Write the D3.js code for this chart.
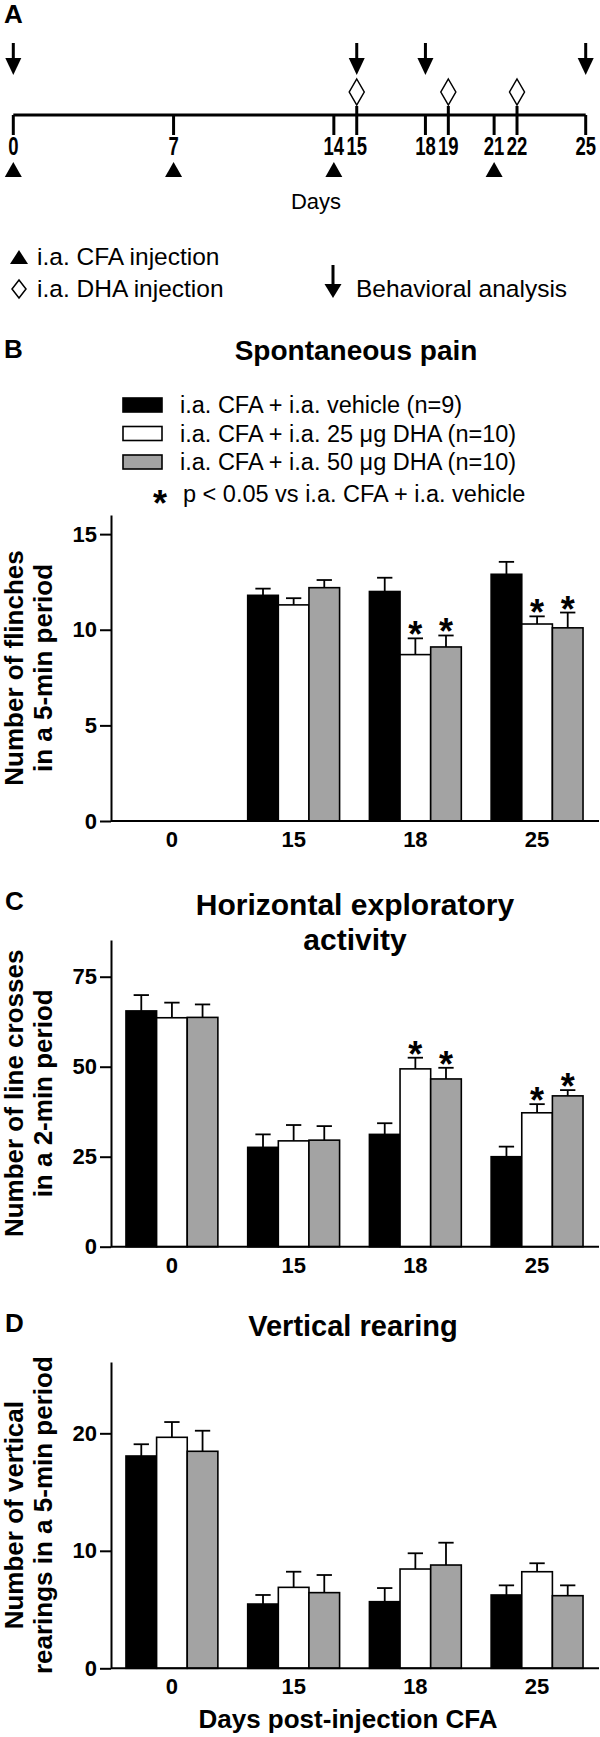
<!DOCTYPE html>
<html><head><meta charset="utf-8">
<script src="https://cdn.jsdelivr.net/npm/d3@7"></script>
<style>
html,body{margin:0;padding:0;background:#fff;}
svg{display:block;font-family:"Liberation Sans",Arial,Helvetica,sans-serif;}
</style></head><body>
<svg id="chart" width="600" height="1737"></svg>
<script>
// ---------- Panel A data ----------
const timelineTicks = [0, 7, 14, 15, 18, 19, 21, 22, 25];
const cfaInjectionDays = [0, 7, 14, 21];
const dhaInjectionDays = [15, 19, 22];
const behaviorDays = [0, 15, 18, 25];
const timelineLegend = ["i.a. CFA injection", "i.a. DHA injection", "Behavioral analysis"];

// ---------- Bar panel shared data ----------
const dayCategories = ["0", "15", "18", "25"];
const groups = ["i.a. CFA + i.a. vehicle (n=9)", "i.a. CFA + i.a. 25 \u03BCg DHA (n=10)", "i.a. CFA + i.a. 50 \u03BCg DHA (n=10)"];
const groupFills = ["#000000", "#ffffff", "#a3a3a3"];
const sigNote = "p < 0.05 vs i.a. CFA + i.a. vehicle";

// ---------- Panel B: spontaneous pain ----------
const flinchVehicle = [null, 11.8, 12.0, 12.9];
const flinchVehicleSem = [null, 0.35, 0.72, 0.65];
const flinchDha25 = [null, 11.3, 8.7, 10.3];
const flinchDha25Sem = [null, 0.35, 0.85, 0.4];
const flinchDha50 = [null, 12.2, 9.1, 10.1];
const flinchDha50Sem = [null, 0.4, 0.6, 0.8];
const flinchSig = [[false, false, false, false], [false, false, true, true], [false, false, true, true]];
const flinchTicks = [0, 5, 10, 15];

// ---------- Panel C: horizontal exploratory activity ----------
const crossVehicle = [65.5, 27.6, 31.2, 25.0];
const crossVehicleSem = [4.4, 3.6, 3.1, 2.8];
const crossDha25 = [63.6, 29.4, 49.4, 37.2];
const crossDha25Sem = [4.2, 4.4, 3.1, 2.4];
const crossDha50 = [63.7, 29.6, 46.6, 41.9];
const crossDha50Sem = [3.6, 3.9, 3.1, 1.6];
const crossSig = [[false, false, false, false], [false, false, true, true], [false, false, true, true]];
const crossTicks = [0, 25, 50, 75];

// ---------- Panel D: vertical rearing ----------
const rearVehicle = [18.07, 5.47, 5.67, 6.24];
const rearVehicleSem = [1.0, 0.77, 1.16, 0.82];
const rearDha25 = [19.66, 6.89, 8.45, 8.22];
const rearDha25Sem = [1.3, 1.33, 1.34, 0.72];
const rearDha50 = [18.47, 6.44, 8.79, 6.18];
const rearDha50Sem = [1.75, 1.5, 1.9, 0.88];
const rearSig = [[false, false, false, false], [false, false, false, false], [false, false, false, false]];
const rearTicks = [0, 10, 20];

const svg = d3.select("#chart");

function panelLetter(t, x, y) {
  svg.append("text").attr("x", x).attr("y", y).attr("font-size", 26).attr("font-weight", "bold").text(t);
}

function drawArrow(g, cx, yTop, yHead, yTip, headW, shaftW) {
  g.append("rect").attr("x", cx - shaftW / 2).attr("y", yTop).attr("width", shaftW).attr("height", yHead - yTop + 1).attr("fill", "#000");
  g.append("path").attr("d", `M${cx - headW / 2},${yHead}L${cx + headW / 2},${yHead}L${cx},${yTip}Z`).attr("fill", "#000");
}
function drawTriangle(g, cx, yTop, yBot, w) {
  g.append("path").attr("d", `M${cx},${yTop}L${cx + w / 2},${yBot}L${cx - w / 2},${yBot}Z`).attr("fill", "#000");
}
function drawDiamond(g, cx, cy, w, h) {
  g.append("path").attr("d", `M${cx},${cy - h / 2}L${cx + w / 2},${cy}L${cx},${cy + h / 2}L${cx - w / 2},${cy}Z`)
    .attr("fill", "#fff").attr("stroke", "#000").attr("stroke-width", 1.5);
}

// ================= Panel A =================
panelLetter("A", 4, 23);
const gA = svg.append("g");
const xt = d3.scaleLinear().domain([0, 25]).range([13.3, 585.7]);
const lineY = 115;
gA.append("line").attr("x1", xt(0)).attr("x2", xt(25)).attr("y1", lineY).attr("y2", lineY)
  .attr("stroke", "#000").attr("stroke-width", 3);
timelineTicks.forEach(d => {
  const top = dhaInjectionDays.includes(d) ? 106 : lineY;
  gA.append("line").attr("x1", xt(d)).attr("x2", xt(d)).attr("y1", top).attr("y2", 135)
    .attr("stroke", "#000").attr("stroke-width", 3);
  gA.append("text").attr("transform", `translate(${xt(d)},155) scale(0.74,1)`).attr("text-anchor", "middle")
    .attr("font-size", 25).attr("font-weight", "bold").text(d);
});
cfaInjectionDays.forEach(d => drawTriangle(gA, xt(d), 162, 177, 17));
dhaInjectionDays.forEach(d => drawDiamond(gA, xt(d), 92, 15, 26));
behaviorDays.forEach(d => drawArrow(gA, xt(d), 43, 58, 75, 16, 3));
gA.append("text").attr("x", 316).attr("y", 209).attr("text-anchor", "middle").attr("font-size", 22).text("Days");

// legend of panel A
drawTriangle(gA, 19, 250, 264, 18);
gA.append("text").attr("x", 37).attr("y", 265).attr("font-size", 24.5).text(timelineLegend[0]);
drawDiamond(gA, 19, 289, 14, 18);
gA.append("text").attr("x", 37).attr("y", 297).attr("font-size", 24.5).text(timelineLegend[1]);
drawArrow(gA, 333, 265, 284, 298, 17, 3);
gA.append("text").attr("x", 356).attr("y", 297).attr("font-size", 24.5).text(timelineLegend[2]);

// ================= Bar panels =================
function barPanel(o) {
  const g = svg.append("g");
  const x = d3.scaleBand().domain(dayCategories).range([111, 598]).paddingInner(0.245).paddingOuter(0.123);
  const xs = d3.scaleBand().domain(d3.range(groups.length)).range([0, x.bandwidth()]);
  const y = d3.scaleLinear().domain([0, o.yMax]).range([o.y0, o.yTop]);

  // title
  o.title.forEach((t, i) => {
    g.append("text").attr("x", o.titleX).attr("y", o.titleY + i * 35).attr("text-anchor", "middle")
      .attr("font-size", o.titleSize).attr("font-weight", "bold").text(t);
  });

  // bars
  o.series.forEach((s, i) => {
    s.vals.forEach((v, j) => {
      if (v == null) return;
      const bx = x(dayCategories[j]) + xs(i);
      const bw = xs.bandwidth();
      const cx = bx + bw / 2;
      const top = y(v + s.sem[j]);
      // error bar
      g.append("line").attr("x1", cx).attr("x2", cx).attr("y1", y(v)).attr("y2", top)
        .attr("stroke", "#000").attr("stroke-width", 1.8);
      g.append("line").attr("x1", cx - bw / 4).attr("x2", cx + bw / 4).attr("y1", top).attr("y2", top)
        .attr("stroke", "#000").attr("stroke-width", 1.8);
      g.append("rect").attr("x", bx).attr("y", y(v)).attr("width", bw).attr("height", o.y0 - y(v))
        .attr("fill", groupFills[i]).attr("stroke", "#000").attr("stroke-width", 1.6);
      if (o.sig[i][j]) {
        g.append("text").attr("x", cx).attr("y", top + 9).attr("text-anchor", "middle")
          .attr("font-size", 36).attr("font-weight", "bold").text("*");
      }
    });
  });

  // axes
  const ya = g.append("g").attr("transform", "translate(111,0)")
    .call(d3.axisLeft(y).tickValues(o.ticks).tickSize(11).tickPadding(3).tickSizeOuter(0));
  ya.select(".domain").attr("stroke-width", 2);
  ya.selectAll(".tick line").attr("stroke-width", 2);
  ya.selectAll(".tick text").attr("font-size", 22).attr("font-weight", "bold").attr("font-family", null).attr("fill", "#000");
  g.append("line").attr("x1", 111).attr("x2", 599).attr("y1", o.y0).attr("y2", o.y0)
    .attr("stroke", "#000").attr("stroke-width", 2);
  const xa = g.append("g").attr("transform", `translate(0,${o.y0})`)
    .call(d3.axisBottom(x).tickSize(0).tickPadding(0));
  xa.select(".domain").remove();
  xa.selectAll(".tick text").attr("font-size", 22).attr("font-weight", "bold").attr("font-family", null)
    .attr("fill", "#000").attr("dy", null).attr("y", 26);

  // y label
  const cy = (o.y0 + o.yTop) / 2;
  o.yLabel.forEach((t, i) => {
    g.append("text").attr("transform", `translate(${23 + i * 29},${cy}) rotate(-90)`).attr("text-anchor", "middle")
      .attr("font-size", 26).attr("font-weight", "bold").text(t);
  });
}

// Panel B
panelLetter("B", 4, 358);
const legB = svg.append("g");
groups.forEach((gname, i) => {
  const ty = 398 + i * 28.5;
  legB.append("rect").attr("x", 123).attr("y", ty).attr("width", 39).attr("height", 14)
    .attr("fill", groupFills[i]).attr("stroke", "#000").attr("stroke-width", 1.6);
  legB.append("text").attr("x", 180).attr("y", ty + 15).attr("font-size", 23.5).text(gname);
});
legB.append("text").attr("x", 160).attr("y", 516).attr("text-anchor", "middle").attr("font-size", 36).attr("font-weight", "bold").text("*");
legB.append("text").attr("x", 183).attr("y", 502).attr("font-size", 23.5).text(sigNote);

barPanel({
  title: ["Spontaneous pain"], titleX: 356, titleY: 360, titleSize: 28,
  yMax: 16, y0: 821, yTop: 515, ticks: flinchTicks,
  series: [
    { vals: flinchVehicle, sem: flinchVehicleSem },
    { vals: flinchDha25, sem: flinchDha25Sem },
    { vals: flinchDha50, sem: flinchDha50Sem }
  ],
  sig: flinchSig,
  yLabel: ["Number of flinches", "in a 5-min period"]
});

// Panel C
panelLetter("C", 5, 910);
barPanel({
  title: ["Horizontal exploratory", "activity"], titleX: 355, titleY: 915, titleSize: 30,
  yMax: 85.2, y0: 1246.7, yTop: 940, ticks: crossTicks,
  series: [
    { vals: crossVehicle, sem: crossVehicleSem },
    { vals: crossDha25, sem: crossDha25Sem },
    { vals: crossDha50, sem: crossDha50Sem }
  ],
  sig: crossSig,
  yLabel: ["Number of line crosses", "in a 2-min period"]
});

// Panel D
panelLetter("D", 5, 1332);
barPanel({
  title: ["Vertical rearing"], titleX: 353, titleY: 1336, titleSize: 29,
  yMax: 26.07, y0: 1668.3, yTop: 1362, ticks: rearTicks,
  series: [
    { vals: rearVehicle, sem: rearVehicleSem },
    { vals: rearDha25, sem: rearDha25Sem },
    { vals: rearDha50, sem: rearDha50Sem }
  ],
  sig: rearSig,
  yLabel: ["Number of vertical", "rearings in a 5-min period"]
});
svg.append("text").attr("x", 348).attr("y", 1728).attr("text-anchor", "middle")
  .attr("font-size", 26).attr("font-weight", "bold").text("Days post-injection CFA");
</script>
</body></html>
